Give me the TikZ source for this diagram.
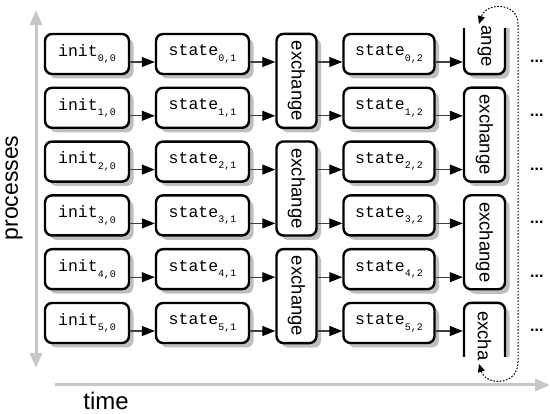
\documentclass[tikz,border=0pt]{standalone}
\usepackage{fontspec}
\setmainfont{Liberation Sans}
\setmonofont{Liberation Mono}
\usetikzlibrary{arrows.meta,shadows,calc}
\newcommand\boxlbl[3]{{\ttfamily\fontsize{16.5}{18}\selectfont #1\raisebox{-5.5pt}{\fontsize{10}{12}\selectfont #2,#3}}}
\begin{document}
\begin{tikzpicture}[x=1pt,y=-1pt,
  box/.style={draw=black,line width=2.4pt,rounded corners=7pt,fill=white,inner sep=0pt,
    minimum height=40pt,
    drop shadow={shadow xshift=4.5pt,shadow yshift=-4.5pt,fill=black!25,opacity=1}},
  xbox/.style={box,minimum width=40pt,minimum height=94pt,font=\fontsize{18.5}{20}\selectfont},
  xfont/.style={font=\fontsize{18.5}{20}\selectfont},
  arr/.style={draw=black!75,line width=1.1pt,-{Triangle[length=13pt,width=10pt,color=black]}},
  axisline/.style={draw=black!22,line width=3pt},
  cycarrow/.style={draw=black,line width=1pt,dash pattern=on 1.6pt off 1.6pt,
    {Triangle[length=8pt,width=7pt]}-{Triangle[length=8pt,width=7pt]}},
  dots/.style={anchor=base west,inner sep=0pt,font=\bfseries\fontsize{16}{16}\selectfont}
]
\useasboundingbox (0,0) rectangle (550,414);

% axes
\coordinate (vt) at (36,10);
\coordinate (vb) at (36,368);
\draw[axisline,{Triangle[length=15pt,width=12pt]}-{Triangle[length=15pt,width=12pt]}] (vt) -- (vb);
\coordinate (hl) at (55,385);
\coordinate (hr) at (550,385);
\draw[axisline,-{Triangle[length=15pt,width=12pt]}] (hl) -- (hr);
\node[anchor=base,inner sep=0pt,font=\fontsize{24}{26}\selectfont] (time) at (106,410) {time};
\node[rotate=90,inner sep=0pt,font=\fontsize{23}{25}\selectfont] (proc) at (14,188) {processes};

% boxes per row
\foreach \i in {0,...,5} {
  \pgfmathsetmacro\yc{54+53.8*\i}
  \pgfmathsetmacro\yd{\yc+8.5}
  \node[box,minimum width=84pt] (i\i) at (87,\yc) {\boxlbl{init}{\i}{0}};
  \node[box,minimum width=93pt] (a\i) at (202.5,\yc) {\boxlbl{state}{\i}{1}};
  \node[box,minimum width=91pt] (b\i) at (389,\yc) {\boxlbl{state}{\i}{2}};
  \node[dots] (d\i) at (530,\yd) {...};
}

% exchange column 1
\foreach \j in {0,1,2} {
  \pgfmathsetmacro\ye{54+53.8*(2*\j+0.5)}
  \node[xbox] (x1\j) at (296.5,\ye) {\rotatebox{-90}{exchange}};
}

% exchange column 2 (boxes cut at the picture's ends)
\begin{scope}
  \clip (450,29) rectangle (525,357);
  \node[xbox,minimum width=41pt] (x20) at (484.5,27.1) {};
  \node[xbox,minimum width=41pt] (x23) at (484.5,349.9) {};
\end{scope}
\foreach \j in {1,2} {
  \pgfmathsetmacro\ye{54+53.8*(2*\j-0.5)}
  \node[xbox,minimum width=41pt] (x2\j) at (484.5,\ye) {\rotatebox{-90}{exchange}};
}
\node[xfont,rotate=-90,anchor=east,inner sep=0pt] (t20) at (484.5,67) {ange};
\node[xfont,rotate=-90,anchor=west,inner sep=0pt] (t23) at (484.5,311) {excha};

% connectors
\foreach \i in {0,...,5} {
  \pgfmathtruncatemacro\k{floor(\i/2)}
  \pgfmathtruncatemacro\m{floor((\i+1)/2)}
  \coordinate (p\i) at ([yshift=-8pt]i\i.east);
  \draw[arr] (p\i) -- (p\i -| a\i.west);
  \coordinate (q\i) at ([yshift=-8pt]a\i.east);
  \draw[arr] (q\i) -- (q\i -| x1\k.west);
  \draw[arr] (q\i -| x1\k.east) -- (q\i -| b\i.west);
  \coordinate (r\i) at ([yshift=-8pt]b\i.east);
  \draw[arr] (r\i) -- (r\i -| x2\m.west);
}

% cyclic dotted arrow
\coordinate (lb) at (479,364);
\coordinate (lt) at (479,24);
\draw[cycarrow] (lb) .. controls (486,386) and (518,386) .. (518,362) -- (518,24)
  .. controls (518,2) and (486,2) .. (lt);
\end{tikzpicture}
\end{document}
